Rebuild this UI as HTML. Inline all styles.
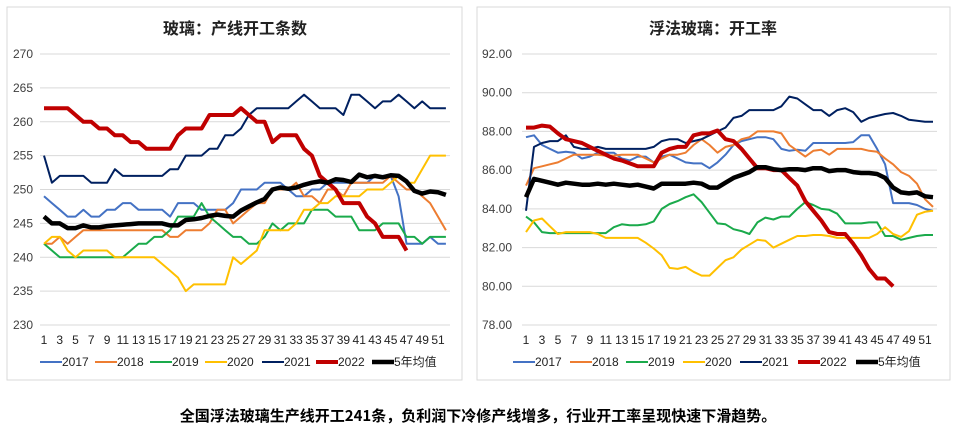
<!DOCTYPE html>
<html><head><meta charset="utf-8"><style>
html,body{margin:0;padding:0;background:#fff;width:956px;height:439px;overflow:hidden}
svg{display:block}
</style></head><body>
<svg id="s" width="956" height="439" xmlns="http://www.w3.org/2000/svg" font-family="Liberation Sans, Noto Sans CJK SC, sans-serif">
<rect x="7" y="7" width="455" height="373" fill="#fff" stroke="#d9d9d9"/>
<rect x="477" y="7" width="473" height="373" fill="#fff" stroke="#d9d9d9"/>
<text x="235" y="34" text-anchor="middle" font-size="16" font-weight="bold" fill="#222" font-family="Noto Sans CJK SC, sans-serif">玻璃：产线开工条数</text>
<text x="713" y="34" text-anchor="middle" font-size="16" font-weight="bold" fill="#222" font-family="Noto Sans CJK SC, sans-serif">浮法玻璃：开工率</text>
<text x="478" y="421" text-anchor="middle" font-size="15" font-weight="bold" fill="#000" font-family="Noto Sans CJK SC, sans-serif">全国浮法玻璃生产线开工241条，负利润下冷修产线增多，行业开工率呈现快速下滑趋势。</text>
<g id="g"></g>
</svg>
<script>
var NS="http://www.w3.org/2000/svg",g=document.getElementById('g');
function el(t,a,txt){var e=document.createElementNS(NS,t);for(var k in a)e.setAttribute(k,a[k]);if(txt!=null)e.textContent=txt;g.appendChild(e);return e;}
var cols=['#4472C4','#ED7D31','#1AAA4B','#FFC000','#002060','#C00000','#000000'];
var wid=[2,2,2,2,2,4,4.5];
var names=['2017','2018','2019','2020','2021','2022','5年均值'];
function chart(c){
  for(var v=c.min;v<=c.max+1e-9;v+=c.step){var y=c.y0+(c.max-v)/(c.max-c.min)*(c.y1-c.y0);
    el('line',{x1:c.gx0,x2:c.gx1,y1:y,y2:y,stroke:'#d9d9d9','stroke-width':1});
    el('text',{x:c.lx,y:y+4,'font-size':12,fill:'#404040','text-anchor':'end'},v.toFixed(c.dec));}
  for(var w=1;w<=51;w+=2){el('text',{x:c.x0+(w-1)*c.dx,y:344,'font-size':12,fill:'#222','text-anchor':'middle'},w);}
  c.data.forEach(function(d,i){var p=d.map(function(v,j){return (c.x0+j*c.dx).toFixed(1)+','+(c.y0+(c.max-v)/(c.max-c.min)*(c.y1-c.y0)).toFixed(1)}).join(' ');
    el('polyline',{points:p,fill:'none',stroke:cols[i],'stroke-width':wid[i],'stroke-linejoin':'round'});});
  c.leg.forEach(function(x,i){el('line',{x1:x,x2:x+22,y1:362,y2:362,stroke:cols[i],'stroke-width':wid[i]});
    el('text',{x:x+22,y:366,'font-size':12,fill:'#222'},names[i]);});
}
chart({min:230,max:270,step:5,dec:0,y0:54,y1:325,x0:44,dx:7.88,gx0:40,gx1:450,lx:33,leg:[40,95,150,205,262,316,372],data:[
[249,248,247,246,246,247,246,246,247,247,248,248,247,247,247,247,246,248,248,248,247,247,247,247,248,250,250,250,251,251,251,250,249,249,250,250,251,251,251,251,251,251,252,252,252,249,242,242,242,243,242,242],
[242,242,243,242,243,244,244,244,244,244,244,244,244,244,244,244,243,243,244,244,244,245,247,247,245,246,247,248,248,250,250,250,251,249,249,248,250,250,249,251,251,251,251,251,252,251,250,250,249,248,246,244],
[242,241,240,240,240,240,240,240,240,240,240,241,242,242,243,243,244,246,246,246,248,246,245,244,243,243,242,242,243,245,244,245,245,245,247,247,247,246,246,246,244,244,244,245,245,245,243,243,242,243,243,243],
[242,243,243,241,240,241,241,241,241,240,240,240,240,240,240,239,238,237,235,236,236,236,236,236,240,239,240,241,244,244,244,244,245,247,247,248,248,249,249,249,249,250,250,250,251,252,251,251,253,255,255,255],
[255,251,252,252,252,252,251,251,251,253,252,252,252,252,252,252,253,253,255,255,255,256,256,258,258,259,261,262,262,262,262,262,263,264,263,262,262,262,261,264,264,263,262,263,263,264,263,262,263,262,262,262],
[262,262,262,262,261,260,260,259,259,258,258,257,257,256,256,256,256,258,259,259,259,261,261,261,261,262,261,260,260,257,258,258,258,256,255,252,251,250,248,248,248,246,245,243,243,243,241],
[246,245,245,244.3,244.3,244.7,244.4,244.4,244.6,244.7,244.8,244.9,245,245,245,245,244.7,244.7,245.5,245.6,245.8,246.1,246.3,246.1,246.0,246.9,247.5,248.1,248.6,250,250.3,250.1,250.3,250.7,251,251.2,251,251.5,251.4,251.1,252.2,251.8,252,251.8,252.1,252,251.2,249.8,249.4,249.7,249.6,249.2]
]});
chart({min:78,max:92,step:2,dec:2,y0:54,y1:325,x0:526,dx:7.98,gx0:522,gx1:937,lx:512,leg:[513,570,626,683,740,798,856],data:[
[87.7,87.8,87.3,87.1,86.9,86.95,86.9,86.6,86.7,86.9,86.9,86.9,86.6,86.5,86.7,86.7,86.4,86.7,86.8,86.6,86.4,86.35,86.35,86.1,86.4,86.8,87.3,87.5,87.6,87.7,87.7,87.6,87.1,87.0,87.05,87.0,87.4,87.4,87.4,87.4,87.4,87.45,87.8,87.8,87.1,86.3,84.3,84.3,84.3,84.2,84.0,83.9],
[85.2,86.1,86.2,86.3,86.4,86.6,86.8,86.8,86.8,86.8,86.75,86.75,86.8,86.8,86.8,86.6,86.4,86.6,86.8,86.8,86.9,87.3,87.6,87.3,86.9,87.2,87.3,87.6,87.7,88.0,88.0,88.0,87.9,87.3,87.0,86.7,87.0,87.05,86.8,87.1,87.1,87.1,87.1,87.0,86.95,86.6,86.3,85.9,85.7,85.3,84.5,84.1],
[83.6,83.3,82.8,82.75,82.75,82.75,82.75,82.75,82.75,82.75,82.75,83.05,83.2,83.15,83.15,83.2,83.35,84.0,84.25,84.4,84.6,84.75,84.35,83.8,83.25,83.2,82.95,82.85,82.7,83.3,83.55,83.45,83.6,83.6,84.0,84.35,84.2,84.0,83.95,83.75,83.25,83.25,83.25,83.3,83.3,82.6,82.6,82.4,82.5,82.6,82.65,82.65],
[82.8,83.4,83.5,83.1,82.7,82.8,82.8,82.8,82.8,82.7,82.5,82.5,82.5,82.5,82.5,82.25,81.95,81.6,80.95,80.9,81.0,80.75,80.55,80.55,80.95,81.35,81.5,81.9,82.15,82.4,82.35,82.0,82.2,82.4,82.6,82.6,82.65,82.65,82.6,82.5,82.5,82.5,82.5,82.5,82.7,83.05,82.7,82.55,82.85,83.7,83.85,83.9],
[83.9,87.2,87.4,87.5,87.5,87.8,87.2,87.1,87.1,87.2,87.1,87.1,87.1,87.1,87.1,87.1,87.2,87.5,87.6,87.6,87.4,87.5,87.6,87.8,88.0,88.2,88.7,88.8,89.1,89.1,89.1,89.1,89.3,89.8,89.7,89.4,89.1,89.1,88.8,89.1,89.2,89.0,88.5,88.7,88.8,88.9,88.95,88.8,88.6,88.55,88.5,88.5],
[88.2,88.2,88.3,88.25,87.9,87.6,87.5,87.4,87.2,87.0,86.8,86.6,86.5,86.35,86.2,86.2,86.2,86.9,87.1,87.2,87.2,87.8,87.9,87.9,88.05,87.6,87.5,87.1,86.6,86.1,86.1,86.0,86.0,85.6,85.2,84.4,83.9,83.4,82.8,82.7,82.7,82.2,81.6,80.9,80.4,80.4,80.0],
[84.6,85.55,85.45,85.35,85.25,85.35,85.3,85.25,85.25,85.3,85.25,85.3,85.25,85.2,85.25,85.15,85.05,85.3,85.3,85.3,85.3,85.35,85.3,85.1,85.1,85.35,85.6,85.75,85.9,86.15,86.15,86.05,86.0,86.05,86.05,86.0,86.1,86.1,85.95,86.0,86.0,85.9,85.85,85.85,85.8,85.6,85.1,84.85,84.8,84.85,84.65,84.6]
]});
</script>
</body></html>
